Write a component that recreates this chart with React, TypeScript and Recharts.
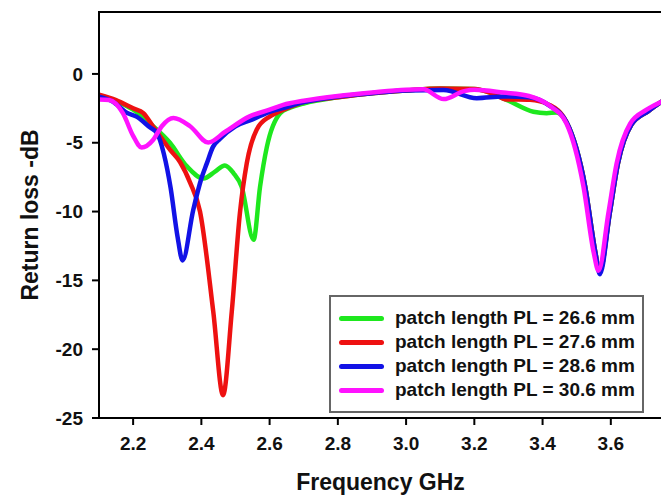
import {
  LineChart,
  Line,
  XAxis,
  YAxis,
  ReferenceArea,
} from "recharts";

const FONT = "'Liberation Sans', Arial, sans-serif";

// frequency (GHz) / return loss (dB)
const freq266 = [2.1, 2.15, 2.2, 2.25, 2.308, 2.357, 2.406, 2.44, 2.469, 2.494, 2.518, 2.553, 2.572, 2.592, 2.631, 2.66, 2.7, 2.8, 2.9, 3.0, 3.1, 3.2, 3.25, 3.3, 3.373, 3.412, 3.44, 3.47, 3.525, 3.555, 3.567, 3.597, 3.621, 3.66, 3.71, 3.75];
const loss266 = [-1.7, -2.0, -2.6, -3.6, -5.0, -6.7, -7.6, -7.1, -6.65, -7.2, -8.2, -12.05, -8.2, -5.3, -2.85, -2.45, -2.15, -1.7, -1.4, -1.2, -1.05, -1.1, -1.4, -1.95, -2.75, -2.85, -2.8, -3.5, -8.2, -13.0, -14.4, -10.1, -6.5, -3.7, -2.7, -2.0];

const freq276 = [2.1, 2.15, 2.2, 2.23, 2.258, 2.308, 2.3375, 2.367, 2.396, 2.435, 2.4635, 2.489, 2.513, 2.533, 2.562, 2.6, 2.62, 2.65, 2.7, 2.8, 2.9, 3.0, 3.1, 3.2, 3.25, 3.295, 3.363, 3.42, 3.47, 3.525, 3.555, 3.567, 3.597, 3.621, 3.66, 3.71, 3.75];
const loss276 = [-1.5, -1.9, -2.5, -2.85, -3.8, -5.5, -6.4, -7.9, -10.0, -17.3, -23.35, -17.3, -10.1, -6.5, -4.05, -3.1, -2.83, -2.5, -2.05, -1.7, -1.4, -1.2, -1.05, -1.1, -1.4, -1.85, -1.88, -2.25, -3.5, -8.2, -13.0, -14.4, -10.1, -6.5, -3.7, -2.7, -2.0];

const freq286 = [2.1, 2.14, 2.18, 2.21, 2.25, 2.27, 2.29, 2.31, 2.33, 2.345, 2.376, 2.4, 2.416, 2.434, 2.455, 2.5, 2.55, 2.6, 2.65, 2.7, 2.8, 2.9, 3.0, 3.11, 3.207, 3.285, 3.36, 3.42, 3.47, 3.525, 3.555, 3.568, 3.597, 3.621, 3.66, 3.71, 3.75];
const loss286 = [-1.65, -2.0, -2.8, -3.1, -3.9, -4.3, -5.8, -8.3, -11.8, -13.55, -9.9, -7.6, -6.5, -5.3, -4.7, -3.8, -3.3, -2.75, -2.4, -2.05, -1.65, -1.4, -1.2, -1.16, -1.76, -1.64, -1.7, -2.3, -3.5, -8.2, -13.0, -14.55, -10.1, -6.5, -3.7, -2.7, -2.0];

const freq306 = [2.1, 2.13, 2.17, 2.2, 2.225, 2.259, 2.284, 2.318, 2.367, 2.42, 2.47, 2.54, 2.6, 2.64, 2.7, 2.8, 2.9, 3.0, 3.05, 3.11, 3.17, 3.2, 3.285, 3.36, 3.42, 3.47, 3.52, 3.55, 3.564, 3.593, 3.617, 3.657, 3.705, 3.75];
const loss306 = [-1.85, -1.9, -2.85, -4.5, -5.35, -4.78, -3.8, -3.2, -3.8, -4.98, -4.2, -3.1, -2.6, -2.25, -1.95, -1.6, -1.35, -1.15, -1.12, -1.83, -1.25, -1.15, -1.35, -1.6, -2.3, -3.6, -8.2, -13.0, -14.3, -10.1, -6.5, -3.6, -2.6, -2.0];

const xTicks = [2.2, 2.4, 2.6, 2.8, 3.0, 3.2, 3.4, 3.6];
const yTicks = [-25, -20, -15, -10, -5, 0];

const series = [
  { name: "patch length PL = 26.6 mm", color: "#1ee81e", f: freq266, v: loss266 },
  { name: "patch length PL = 27.6 mm", color: "#ee1111", f: freq276, v: loss276 },
  { name: "patch length PL = 28.6 mm", color: "#1212e6", f: freq286, v: loss286 },
  { name: "patch length PL = 30.6 mm", color: "#ff12ff", f: freq306, v: loss306 },
];

const tickStyle = { fill: "#111", fontSize: 19, fontWeight: 700, fontFamily: FONT };
const titleStyle = { fill: "#111", fontSize: 23, fontWeight: 700, fontFamily: FONT };

function LegendBox() {
  return (
    <div
      style={{
        position: "absolute",
        left: 321,
        top: 287,
        width: 315,
        height: 118,
        border: "2px solid #666",
        background: "#fff",
        boxSizing: "border-box",
        padding: "9px 0 0 8px",
        fontFamily: FONT,
        fontWeight: 700,
        fontSize: 19,
        color: "#111",
      }}
    >
      {series.map((s) => (
        <div key={s.name} style={{ display: "flex", alignItems: "center", height: 24 }}>
          <span
            style={{
              display: "inline-block",
              width: 45,
              height: 5,
              borderRadius: 3,
              background: s.color,
              marginRight: 11,
            }}
          />
          <span style={{ whiteSpace: "nowrap" }}>{s.name}</span>
        </div>
      ))}
    </div>
  );
}

export default function App() {
  return (
    <div style={{ position: "relative", width: 661, height: 490 }}>
      <LineChart width={661} height={490} margin={{ top: 4, right: 7, left: 31, bottom: 30 }}>
        <XAxis
          type="number"
          dataKey="f"
          domain={[2.1, 3.75]}
          ticks={xTicks}
          allowDataOverflow
          tickFormatter={(t: number) => t.toFixed(1)}
          tick={tickStyle}
          tickSize={7}
          tickMargin={12}
          height={50}
          axisLine={{ stroke: "#000", strokeWidth: 2 }}
          tickLine={{ stroke: "#000", strokeWidth: 2 }}
          label={{
            content: ({ viewBox }: any) => (
              <text
                x={viewBox.x + viewBox.width / 2}
                y={viewBox.y + 72}
                textAnchor="middle"
                style={titleStyle}
              >
                Frequency GHz
              </text>
            ),
          }}
        />
        <YAxis
          type="number"
          domain={[-25, 4.5]}
          ticks={yTicks}
          allowDataOverflow
          tick={tickStyle}
          tickSize={7}
          tickMargin={9}
          width={60}
          axisLine={{ stroke: "#000", strokeWidth: 2 }}
          tickLine={{ stroke: "#000", strokeWidth: 2 }}
          label={{
            content: ({ viewBox }: any) => {
              const cx = viewBox.x - 1;
              const cy = viewBox.y + viewBox.height / 2;
              return (
                <text
                  x={cx}
                  y={cy}
                  transform={`rotate(-90, ${cx}, ${cy})`}
                  textAnchor="middle"
                  style={titleStyle}
                >
                  Return loss -dB
                </text>
              );
            },
          }}
        />
        <ReferenceArea
          x1={2.1}
          x2={3.75}
          y1={-25}
          y2={4.5}
          fill="none"
          stroke="#000"
          strokeWidth={2}
          ifOverflow="visible"
        />
        {series.map((s) => (
          <Line
            key={s.name}
            data={s.f.map((f, i) => ({ f, v: s.v[i] }))}
            dataKey="v"
            name={s.name}
            type="monotone"
            stroke={s.color}
            strokeWidth={4.5}
            dot={false}
            activeDot={false}
            isAnimationActive={false}
          />
        ))}
      </LineChart>
      <LegendBox />
    </div>
  );
}
